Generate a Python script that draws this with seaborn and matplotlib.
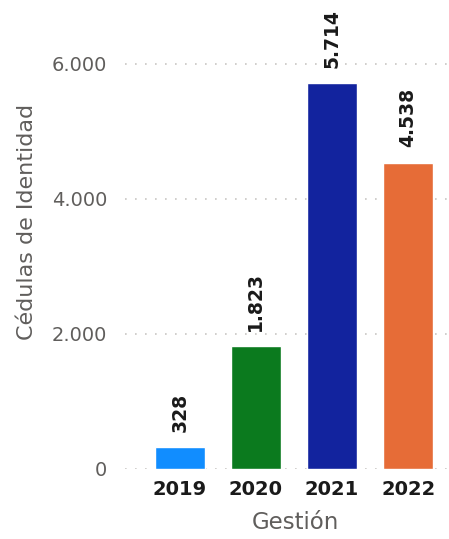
import pandas as pd
import matplotlib.pyplot as plt
import seaborn as sns
import numpy as np

# datos
years = ['2019', '2020', '2021', '2022']
cedulas = [328, 1823, 5714, 4538]
bar_colors = ['#118DFF', '#0B7A1E', '#12239E', '#E66C37']
y_ticks = [0, 2000, 4000, 6000]

df = pd.DataFrame({'Gestión': years, 'Cédulas': cedulas})

sns.set_style('white')
plt.rcParams['font.family'] = ['DejaVu Sans']

fig = plt.figure(figsize=(4.49, 5.39), dpi=100)
ax = fig.add_axes([125 / 449, 70 / 539, 322 / 449, 449 / 539])

sns.barplot(data=df, x='Gestión', y='Cédulas', hue='Gestión', palette=bar_colors,
            width=0.66, legend=False, ax=ax, saturation=1)

def fmt(v):
    return f'{v:,}'.replace(',', '.')

# etiquetas de datos
for i, v in enumerate(cedulas):
    ax.annotate(fmt(v), (i, v), xytext=(0, 11), textcoords='offset points',
                rotation=90, ha='center', va='bottom', fontsize=13.5,
                fontweight='bold', color='#1a1a1a', annotation_clip=False)

ax.set_ylim(0, 6650)
ax.set_xlim(-0.72, 3.51)
ax.set_yticks(y_ticks)
ax.set_yticklabels([fmt(t) for t in y_ticks], fontsize=14, color='#605E5C')
ax.tick_params(axis='y', length=0, pad=13)
ax.tick_params(axis='x', length=0, pad=8)
for lbl in ax.get_xticklabels():
    lbl.set_fontweight('bold')
    lbl.set_fontsize(14)
    lbl.set_color('#1a1a1a')

ax.yaxis.grid(True, linestyle=(0, (1, 5)), color='#C8C6C4', linewidth=1.2)
ax.set_axisbelow(True)
sns.despine(ax=ax, left=True, bottom=True)

ax.set_xlabel('Gestión', fontsize=16.5, color='#605E5C')
ax.set_ylabel('Cédulas de Identidad', fontsize=16, color='#605E5C')
ax.xaxis.set_label_coords(0.528, -0.094)
ax.yaxis.set_label_coords(-0.272, 0.55)

plt.savefig('out.png', dpi=100)
